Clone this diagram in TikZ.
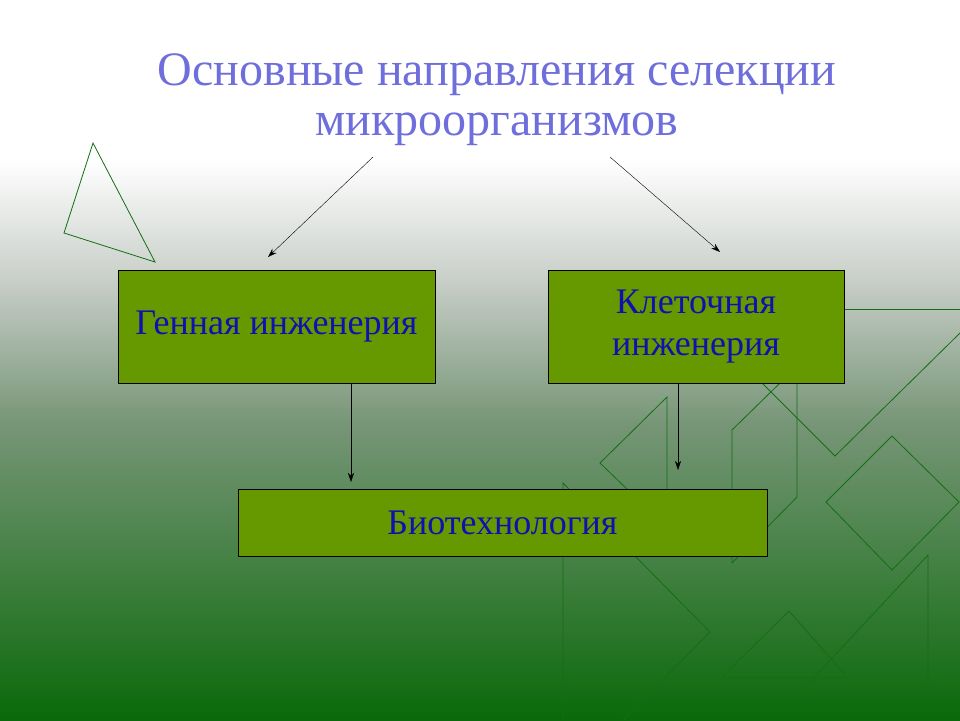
\documentclass[tikz,border=0pt]{standalone}
\usepackage{fontspec}
\setmainfont{Liberation Serif}
\usetikzlibrary{arrows.meta}
\definecolor{bgdark}{RGB}{10,105,10}
\definecolor{bgmid}{RGB}{120,150,120}
\definecolor{bglight}{RGB}{200,206,200}
\definecolor{boxgreen}{RGB}{102,153,0}
\definecolor{titleblue}{RGB}{110,110,220}
\definecolor{textblue}{RGB}{16,16,176}
\definecolor{decogreen}{RGB}{20,110,20}
\tikzset{
  box/.style={draw=black, fill=boxgreen, text=textblue, font=\fontsize{36}{42}\selectfont, align=center, inner sep=0pt},
  deco/.style={draw=decogreen, line width=0.8pt},
  arr/.style={-{Stealth[length=9pt,width=6pt]}, thin}
}
\begin{document}
\begin{tikzpicture}[x=1pt,y=-1pt]

    % фон
    \fill[white] (0,0) rectangle (960,160);
    \shade[top color=white, bottom color=bglight] (0,159) rectangle (960,281);
    \shade[top color=bglight, bottom color=bgmid] (0,280) rectangle (960,421);
    \shade[top color=bgmid, bottom color=bgdark] (0,420) rectangle (960,720);
    \useasboundingbox (0,0) rectangle (960,720);

    % декоративные фигуры
    \draw[deco] (93,143) -- (64,233) -- (155,262) -- cycle;
    \draw[deco] (845,309) -- (960,309);
    \draw[deco] (762,383) -- (835,456) -- (960,333);
    \draw[deco] (667,490) -- (667,397) -- (600,463) -- (628,490);
    \draw[deco] (780,383) -- (732,430) -- (732,563) -- (797,497) -- (797,383);
    \draw[deco] (892,436) -- (959,502) -- (892,570) -- (826,502) -- cycle;
    \draw[deco] (563,720) -- (563,483) -- (710,632) -- (623,720);
    \draw[deco] (789,611) -- (722,677) -- (847,677) -- cycle;
    \draw[deco] (928,555) -- (928,696) -- (797,696) -- cycle;

    % заголовок
    \node[text=titleblue, font=\fontsize{48}{50}\selectfont, align=center] (title) at (497,100)
        {Основные направления  селекции\\микроорганизмов};

    % блоки
    \node[box, minimum width=317pt, minimum height=113pt] (gen) at (276.5,326.5) {Генная инженерия};
    \node[box, minimum width=296pt, minimum height=113pt] (cell) at (696,326.5) {Клеточная\\инженерия};
    \node[box, minimum width=529pt, minimum height=67pt] (bio) at (502.5,522.5) {Биотехнология};

    % стрелки
    \coordinate (t1) at (373,157);
    \coordinate (t2) at (610,157);
    \draw[arr] (t1) -- (268,257);
    \draw[arr] (t2) -- (720,252);
    \draw[arr] (gen.south -| 351,0) -- (351,482);
    \draw[arr] (cell.south -| 678,0) -- (678,470);
\end{tikzpicture}
\end{document}
